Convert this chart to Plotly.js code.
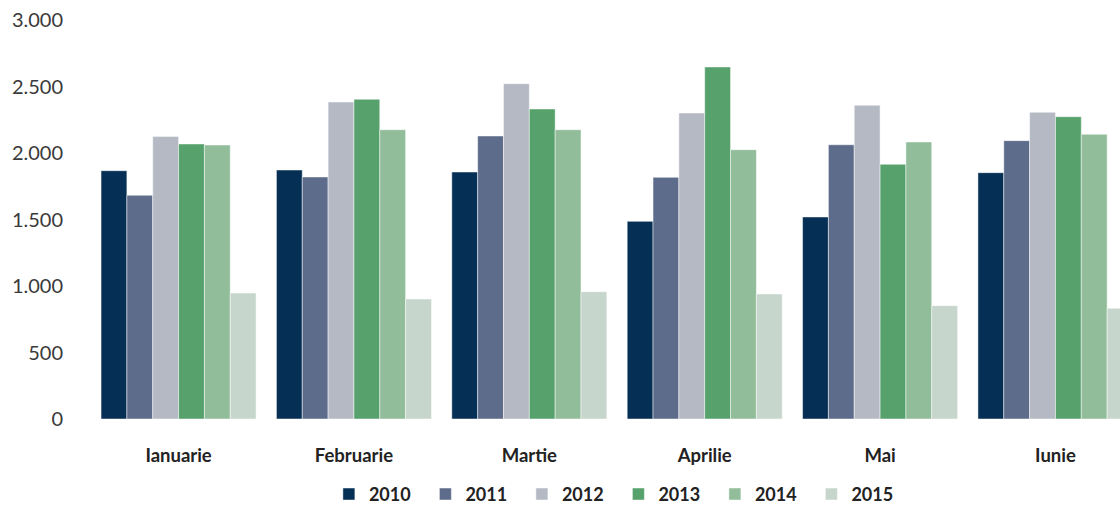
<!DOCTYPE html>
<html>
<head>
<meta charset="utf-8">
<script src="https://cdn.plot.ly/plotly-3.0.1.min.js"></script>
<style>
  html, body { margin: 0; padding: 0; background: #fff; overflow: hidden; }
</style>
</head>
<body>
<div id="myChart" style="width:1120px;height:507px;"></div>
<script>
// Sample data
const months = ['Ianuarie', 'Februarie', 'Martie', 'Aprilie', 'Mai', 'Iunie'];
const years = ['2010', '2011', '2012', '2013', '2014', '2015'];

const v2010 = [1867, 1872, 1857, 1486, 1519, 1852];
const v2011 = [1682, 1820, 2128, 1817, 2062, 2093];
const v2012 = [2125, 2383, 2521, 2301, 2359, 2306];
const v2013 = [2068, 2404, 2331, 2647, 1915, 2273];
const v2014 = [2060, 2175, 2175, 2025, 2083, 2141];
const v2015 = [947, 902, 957, 940, 852, 832];

const series = [v2010, v2011, v2012, v2013, v2014, v2015];
const colors = ['#052f54', '#5e6c8b', '#b5b9c4', '#57a16d', '#92bd9a', '#c6d6cc'];

// one bar trace per year
function createTrace(i) {
    return {
        type: 'bar',
        name: years[i],
        x: months,
        y: series[i],
        marker: {
            color: colors[i],
            line: { color: 'rgba(255,255,255,0.6)', width: 0.8 }
        },
        hoverinfo: 'x+y+name'
    };
}

const traces = years.map((_, i) => createTrace(i));

const layout = {
    width: 1120,
    height: 507,
    paper_bgcolor: '#fff',
    plot_bgcolor: '#fff',
    margin: { t: 20, r: 0, b: 88, l: 90 },
    separators: ',.',
    barmode: 'group',
    bargap: 0.116,
    bargroupgap: 0,
    font: { family: 'Lato, "Open Sans", sans-serif', color: '#333' },
    xaxis: {
        type: 'category',
        range: [-0.505, 5.368], // last group is cut by the right edge
        showgrid: false,
        zeroline: false,
        showline: false,
        ticks: '',
        ticklabelstandoff: 23,
        tickfont: { size: 18.5, weight: 700, color: '#222' }
    },
    yaxis: {
        range: [0, 3000],
        dtick: 500,
        tickformat: ',d',
        showgrid: false,
        zeroline: false,
        showline: false,
        ticks: '',
        ticklabelstandoff: 26,
        tickfont: { size: 20, color: '#3a3a3a' }
    },
    showlegend: true,
    legend: {
        orientation: 'h',
        xref: 'paper',
        x: 0.513,
        xanchor: 'center',
        yref: 'container',
        y: 0.025,
        yanchor: 'middle',
        entrywidth: 51.5,
        entrywidthmode: 'pixels',
        itemwidth: 30,
        font: { size: 18, weight: 700, color: '#222' },
        traceorder: 'normal'
    }
};

Plotly.newPlot('myChart', traces, layout, { displayModeBar: false, responsive: false });
</script>
</body>
</html>
